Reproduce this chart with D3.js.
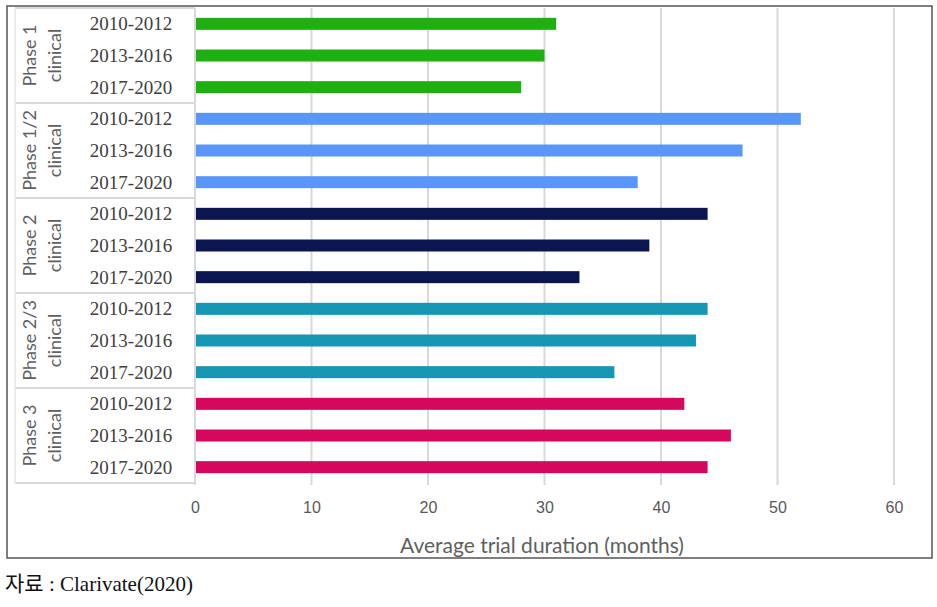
<!DOCTYPE html>
<html><head><meta charset="utf-8">
<script src="https://cdn.jsdelivr.net/npm/d3@7"></script>
<style>body{margin:0;background:#fff}svg{display:block}</style>
</head><body>
<svg id="c" width="937" height="607"></svg>
<script>
const phases = ["Phase 1", "Phase 1/2", "Phase 2", "Phase 2/3", "Phase 3"];
const periods = ["2010-2012", "2013-2016", "2017-2020"];
const phase1 = [31, 30, 28];
const phase12 = [52, 47, 38];
const phase2 = [44, 39, 33];
const phase23 = [44, 43, 36];
const phase3 = [42, 46, 44];
const colors = ["#1db010", "#5a96f8", "#0b1550", "#1596b3", "#d6085e"];
const xTicks = [0, 10, 20, 30, 40, 50, 60];
const xTitle = "Average trial duration (months)";
const caption = "자료 : Clarivate(2020)";

const seriesVals = [phase1, phase12, phase2, phase23, phase3];
const rows = [];
phases.forEach((p, gi) => periods.forEach((per, pi) => rows.push({phase: p, gi, period: per, value: seriesVals[gi][pi], key: p + "|" + per})));

const svg = d3.select("#c");
const x = d3.scaleLinear().domain([0, 60]).range([195, 894]);
const y = d3.scaleBand().domain(rows.map(r => r.key)).range([8, 483]).padding(0);
const g = d3.scaleBand().domain(phases).range([8, 483]).padding(0);
const barH = 12;
const grid = "#d9d9d9";

// outer frame
svg.append("rect").attr("x", 7).attr("y", 6).attr("width", 925).attr("height", 552)
  .attr("fill", "none").attr("stroke", "#555").attr("stroke-width", 1.5);

// gridlines
svg.append("g").selectAll("line").data(xTicks).join("line")
  .attr("x1", d => x(d)).attr("x2", d => x(d)).attr("y1", 8).attr("y2", 485)
  .attr("stroke", grid).attr("stroke-width", 2);

// category table lines
const bounds = phases.map(p => g(p)).concat([483]);
svg.append("g").selectAll("line").data(bounds).join("line")
  .attr("x1", 15).attr("x2", 195).attr("y1", d => d).attr("y2", d => d)
  .attr("stroke", grid).attr("stroke-width", 2);
svg.append("line").attr("x1", 15).attr("x2", 15).attr("y1", 8).attr("y2", 483)
  .attr("stroke", "#e6e6e6").attr("stroke-width", 1.5);

// bars
svg.append("g").selectAll("rect").data(rows).join("rect")
  .attr("x", x(0) + 1)
  .attr("y", d => y(d.key) + y.bandwidth() / 2 - barH / 2)
  .attr("width", d => x(d.value) - x(0) - 1)
  .attr("height", barH)
  .attr("fill", d => colors[d.gi]);

// period labels
svg.append("g").selectAll("text").data(rows).join("text")
  .attr("x", 131).attr("y", d => y(d.key) + y.bandwidth() / 2)
  .attr("dy", "0.35em").attr("text-anchor", "middle")
  .attr("font-family", "Liberation Serif, serif").attr("font-size", 19)
  .attr("fill", "#404040").text(d => d.period);

// phase labels (rotated)
const pg = svg.append("g").selectAll("g").data(phases).join("g")
  .attr("transform", p => `translate(43,${g(p) + g.bandwidth() / 2}) rotate(-90)`);
pg.append("text").attr("x", 0).attr("y", -7).attr("text-anchor", "middle")
  .attr("font-family", "Lato, sans-serif").attr("font-size", 18).attr("fill", "#606060")
  .text(p => p);
pg.append("text").attr("x", 0).attr("y", 18).attr("text-anchor", "middle")
  .attr("font-family", "Lato, sans-serif").attr("font-size", 18).attr("fill", "#606060")
  .text("clinical");

// x axis
const ax = svg.append("g").attr("transform", "translate(0,485)")
  .call(d3.axisBottom(x).tickValues(xTicks).tickSize(0).tickPadding(17));
ax.select(".domain").remove();
ax.selectAll("text").attr("font-family", "Liberation Sans, sans-serif").attr("font-size", 16).attr("fill", "#595959");

svg.append("text").attr("x", 542).attr("y", 553).attr("text-anchor", "middle")
  .attr("font-family", "Lato, sans-serif").attr("font-size", 21).attr("fill", "#606060")
  .text(xTitle);

svg.append("text").attr("x", 5).attr("y", 591)
  .attr("font-family", "Liberation Serif, Noto Sans CJK KR, serif").attr("font-size", 21).attr("fill", "#111")
  .text(caption);
</script>
</body></html>
